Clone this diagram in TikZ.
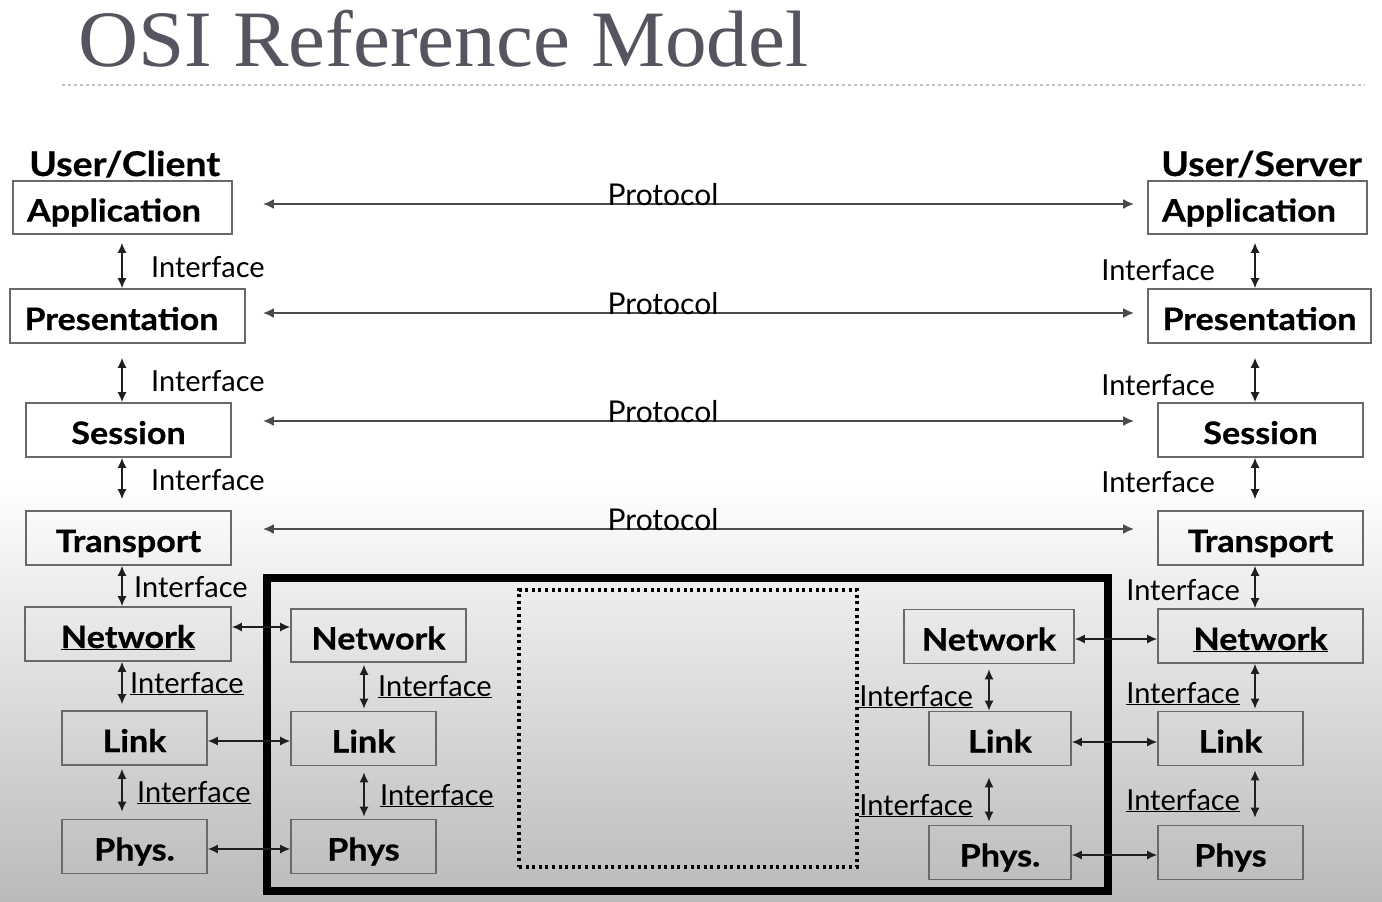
\documentclass[tikz,border=0pt]{standalone}
\usepackage{fontspec}
\setmainfont{Lato}
\newfontfamily\titlefont{Liberation Serif}[FakeStretch=1.04]
\newfontfamily\boxfont{Lato}[FakeStretch=1.1,FakeBold=0.6]
\usetikzlibrary{arrows.meta,calc}
\definecolor{boxgray}{RGB}{105,105,105}
\definecolor{titlegray}{RGB}{85,85,95}
\definecolor{arrgray}{RGB}{30,30,30}
\begin{document}
\begin{tikzpicture}[x=1pt,y=-1pt,
  box/.style={draw=boxgray, line width=1.6pt, inner sep=0pt, minimum height=54pt,
    text height=28pt, text depth=0pt,
    font=\boxfont\fontsize{31}{36}\selectfont\bfseries},
  iface/.style={draw=arrgray, line width=1.5pt, {Latex[length=10pt,width=9pt]}-{Latex[length=10pt,width=9pt]}},
  proto/.style={draw=arrgray!80, line width=2.2pt, {Latex[length=11pt,width=10pt]}-{Latex[length=11pt,width=10pt]}},
  lbl/.style={inner sep=0pt, font=\fontsize{29}{32}\selectfont},
  plbl/.style={inner sep=0pt, font=\fontsize{30}{32}\selectfont},
  ulbl/.style={inner sep=0pt, font=\boxfont\fontsize{34}{36}\selectfont\bfseries}
]
\useasboundingbox (0,0) rectangle (1382,902);
\fill[white] (0,0) rectangle (1382,902);
\shade[top color=white, bottom color=black!27] (0,480) rectangle (1382,902);

% title
\node[anchor=base west, inner sep=0pt, font=\titlefont\fontsize{80}{80}\selectfont, text=titlegray] (title) at (78,66) {OSI Reference Model};
\coordinate (tl) at (62,85);
\coordinate (tr) at (1365,85);
\draw[black!25, line width=2pt, dash pattern=on 3pt off 3pt] (tl) -- (tr);

% column headers
\node[ulbl, anchor=base west] (uc) at (29,176) {User/Client};
\node[ulbl, anchor=base west] (us) at (1161,176) {User/Server};

% router frames
\node[draw, line width=8pt, minimum width=841pt, minimum height=313pt, inner sep=0pt] (router) at (687.5,734.5) {};
\node[draw, line width=3.2pt, dash pattern=on 3pt off 3.6pt, minimum width=338pt, minimum height=277pt, inner sep=0pt] (cloud) at (688,728.5) {};

% left stack
\node[box, minimum width=219pt, minimum height=53pt] (lapp) at (122.5,207.5) {Application\hspace*{17pt}};
\node[box, minimum width=235pt] (lpres) at (127.5,316) {Presentation\hspace*{12pt}};
\node[box, minimum width=205pt] (lsess) at (128.5,430) {Session};
\node[box, minimum width=205pt] (ltrans) at (128.5,538) {Transport};
\node[box, minimum width=206pt] (lnet) at (128,634) {\underline{Network}};
\node[box, minimum width=145pt] (llink) at (134.5,738) {Link};
\node[box, minimum width=145pt] (lphys) at (134.5,846.5) {Phys.};

% inner left router
\node[box, minimum width=175pt, minimum height=53pt] (inet) at (378.5,635.5) {Network};
\node[box, minimum width=145pt] (ilink) at (363.5,738.5) {Link};
\node[box, minimum width=145pt] (iphys) at (363.5,846.5) {Phys};

% inner right router
\node[box, minimum width=170pt] (jnet) at (989,636.5) {Network};
\node[box, minimum width=142pt] (jlink) at (1000,738.5) {Link};
\node[box, minimum width=142pt] (jphys) at (1000,852.5) {Phys.};

% right stack
\node[box, minimum width=219pt, minimum height=53pt] (rapp) at (1257.5,207.5) {Application\hspace*{17pt}};
\node[box, minimum width=223pt] (rpres) at (1259.5,316) {Presentation};
\node[box, minimum width=205pt] (rsess) at (1260.5,430) {Session};
\node[box, minimum width=205pt] (rtrans) at (1260.5,538) {Transport};
\node[box, minimum width=205pt] (rnet) at (1260.5,636) {\underline{Network}};
\node[box, minimum width=145pt] (rlink) at (1230.5,738.5) {Link};
\node[box, minimum width=145pt] (rphys) at (1230.5,852.5) {Phys};

% protocol arrows
\draw[proto, shorten <=30pt, shorten >=13pt] ([yshift=3.5pt]lapp.east) -- ([yshift=3.5pt]rapp.west);
\draw[proto, shorten <=17pt, shorten >=13pt] ([yshift=3pt]lpres.east) -- ([yshift=3pt]rpres.west);
\draw[proto, shorten <=31pt, shorten >=23pt] ([yshift=9pt]lsess.east) -- ([yshift=9pt]rsess.west);
\draw[proto, shorten <=31pt, shorten >=23pt] ([yshift=9pt]ltrans.east) -- ([yshift=9pt]rtrans.west);
\node[plbl, anchor=base] (p1) at (663,205) {Protocol};
\node[plbl, anchor=base] (p2) at (663,314) {Protocol};
\node[plbl, anchor=base] (p3) at (663,422) {Protocol};
\node[plbl, anchor=base] (p4) at (663,530) {Protocol};

% vertical interface arrows
\coordinate (lx) at (122,0);
\coordinate (ix) at (364,0);
\coordinate (jx) at (989,0);
\coordinate (rx) at (1255,0);
\draw[iface, shorten <=8pt] (lapp.south -| lx) -- (lpres.north -| lx);
\draw[iface, shorten <=14pt] (lpres.south -| lx) -- (lsess.north -| lx);
\draw[iface, shorten >=11pt] (lsess.south -| lx) -- (ltrans.north -| lx);
\draw[iface] (ltrans.south -| lx) -- (lnet.north -| lx);
\draw[iface, shorten >=6pt] (lnet.south -| lx) -- (llink.north -| lx);
\draw[iface, shorten <=3pt, shorten >=7pt] (llink.south -| lx) -- (lphys.north -| lx);

\draw[iface, shorten <=2pt, shorten >=2pt] (inet.south -| ix) -- (ilink.north -| ix);
\draw[iface, shorten <=6pt, shorten >=2pt] (ilink.south -| ix) -- (iphys.north -| ix);

\draw[iface, shorten <=5pt] (jnet.south -| jx) -- (jlink.north -| jx);
\draw[iface, shorten <=11pt, shorten >=3pt] (jlink.south -| jx) -- (jphys.north -| jx);

\draw[iface, shorten <=8pt] (rapp.south -| rx) -- (rpres.north -| rx);
\draw[iface, shorten <=14pt] (rpres.south -| rx) -- (rsess.north -| rx);
\draw[iface, shorten >=11pt] (rsess.south -| rx) -- (rtrans.north -| rx);
\draw[iface] (rtrans.south -| rx) -- (rnet.north -| rx);
\draw[iface, shorten >=2pt] (rnet.south -| rx) -- (rlink.north -| rx);
\draw[iface, shorten <=4pt, shorten >=7pt] (rlink.south -| rx) -- (rphys.north -| rx);

% horizontal peer arrows
\draw[iface] ([yshift=7pt]lnet.east) -- ([yshift=8.5pt]inet.west);
\draw[iface] ([yshift=-3pt]llink.east) -- ([yshift=-2.5pt]ilink.west);
\draw[iface] ([yshift=-2.5pt]lphys.east) -- ([yshift=-2.5pt]iphys.west);
\draw[iface] ([yshift=-2.5pt]jnet.east) -- ([yshift=-3pt]rnet.west);
\draw[iface] ([yshift=-3.5pt]jlink.east) -- ([yshift=-3.5pt]rlink.west);
\draw[iface] ([yshift=-2.5pt]jphys.east) -- ([yshift=-2.5pt]rphys.west);

% interface labels
\node[lbl, anchor=base west] (il1) at (151,277) {Interface};
\node[lbl, anchor=base west] (il2) at (151,391) {Interface};
\node[lbl, anchor=base west] (il3) at (151,490) {Interface};
\node[lbl, anchor=base west] (il4) at (134,597) {Interface};
\node[lbl, anchor=base west] (il5) at (130,693) {\underline{Interface}};
\node[lbl, anchor=base west] (il6) at (137,802) {\underline{Interface}};
\node[lbl, anchor=base west] (ii1) at (378,696) {\underline{Interface}};
\node[lbl, anchor=base west] (ii2) at (380,805) {\underline{Interface}};
\node[lbl, anchor=base east] (ij1) at (973,706) {\underline{Interface}};
\node[lbl, anchor=base east] (ij2) at (973,815) {\underline{Interface}};
\node[lbl, anchor=base east] (ir1) at (1215,280) {Interface};
\node[lbl, anchor=base east] (ir2) at (1215,395) {Interface};
\node[lbl, anchor=base east] (ir3) at (1215,492) {Interface};
\node[lbl, anchor=base east] (ir4) at (1240,600) {Interface};
\node[lbl, anchor=base east] (ir5) at (1240,703) {\underline{Interface}};
\node[lbl, anchor=base east] (ir6) at (1240,810) {\underline{Interface}};
\end{tikzpicture}
\end{document}
